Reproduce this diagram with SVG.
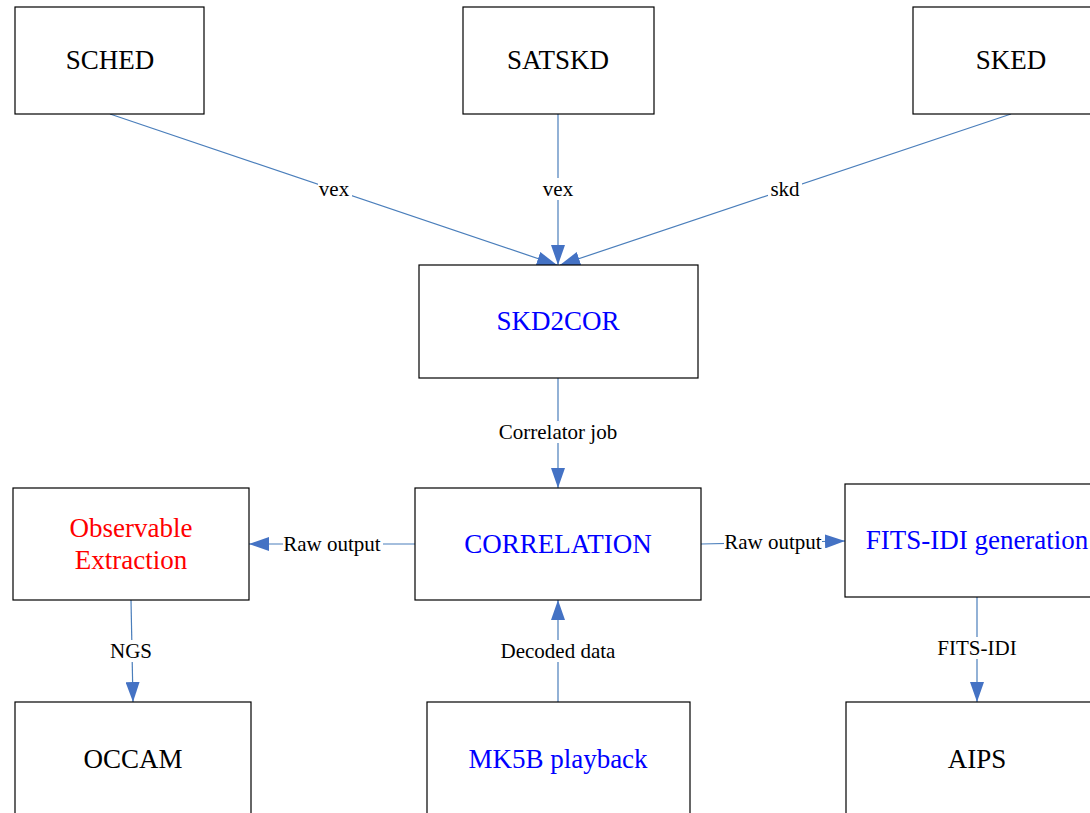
<svg xmlns="http://www.w3.org/2000/svg" width="1090" height="813" viewBox="0 0 1090 813">
<defs>
<style>
.box{fill:#fff;stroke:#000;stroke-width:1.2}
.t{font-family:"Liberation Serif","Times New Roman",serif;font-size:27px;text-anchor:middle;dominant-baseline:central}
.b{fill:#0000ff}
.r{fill:#ff0000}
.k{fill:#000}
.e{stroke:#4a7ebb;stroke-width:1.2;fill:none;marker-end:url(#ah)}
.lbl{font-family:"Liberation Serif","Times New Roman",serif;font-size:21px;text-anchor:middle;dominant-baseline:central;fill:#000}
.lb{fill:#fff}
</style>
<marker id="ah" viewBox="0 0 20 14" refX="20" refY="7" markerWidth="20" markerHeight="14" markerUnits="userSpaceOnUse" orient="auto">
<path d="M0,0 L20,7 L0,14 Z" fill="#4472c4"/>
</marker>
</defs>
<rect width="1090" height="813" fill="#fff"/>
<g id="connectors">
<line class="e" x1="110" y1="114" x2="557" y2="265"/>
<line class="e" x1="558" y1="114" x2="558" y2="265"/>
<line class="e" x1="1011" y1="114" x2="560" y2="265"/>
<line class="e" x1="558" y1="378" x2="558" y2="488"/>
<line class="e" x1="415" y1="544" x2="249" y2="544"/>
<line class="e" x1="701" y1="544" x2="845" y2="541"/>
<line class="e" x1="131" y1="600" x2="133" y2="702"/>
<line class="e" x1="558" y1="702" x2="558" y2="600"/>
<line class="e" x1="977" y1="597" x2="977" y2="702"/>
<rect class="lb" x="318" y="178" width="34" height="22"/>
<text class="lbl" x="334" y="189">vex</text>
<rect class="lb" x="541" y="178" width="34" height="22"/>
<text class="lbl" x="558" y="189">vex</text>
<rect class="lb" x="768" y="178" width="34" height="22"/>
<text class="lbl" x="785" y="189">skd</text>
<rect class="lb" x="498" y="421" width="122" height="22"/>
<text class="lbl" x="558" y="432">Correlator job</text>
<rect class="lb" x="283" y="533" width="100" height="22"/>
<text class="lbl" x="332" y="544">Raw output</text>
<rect class="lb" x="724" y="531" width="98" height="22"/>
<text class="lbl" x="773" y="542">Raw output</text>
<rect class="lb" x="109" y="640" width="44" height="22"/>
<text class="lbl" x="131" y="651">NGS</text>
<rect class="lb" x="499" y="640" width="120" height="22"/>
<text class="lbl" x="558" y="651">Decoded data</text>
<rect class="lb" x="937" y="637" width="80" height="22"/>
<text class="lbl" x="977" y="648">FITS-IDI</text>
</g>
<g id="sched"><rect class="box" x="15" y="7" width="189" height="107"/><text class="t k" x="110" y="60">SCHED</text></g>
<g id="satskd"><rect class="box" x="463" y="7" width="191" height="107"/><text class="t k" x="558" y="60">SATSKD</text></g>
<g id="sked"><rect class="box" x="913" y="7" width="200" height="107"/><text class="t k" x="1011" y="60">SKED</text></g>
<g id="skd2cor"><rect class="box" x="419" y="265" width="279" height="113"/><text class="t b" x="558" y="321">SKD2COR</text></g>
<g id="obs"><rect class="box" x="13" y="488" width="236" height="112"/><text class="t r" x="131" y="528">Observable</text><text class="t r" x="131" y="560">Extraction</text></g>
<g id="correlation"><rect class="box" x="415" y="488" width="286" height="112"/><text class="t b" x="558" y="544">CORRELATION</text></g>
<g id="fits"><rect class="box" x="845" y="484" width="260" height="113"/><text class="t b" x="977" y="540">FITS-IDI generation</text></g>
<g id="occam"><rect class="box" x="15" y="702" width="236" height="130"/><text class="t k" x="133" y="759">OCCAM</text></g>
<g id="mk5b"><rect class="box" x="427" y="702" width="263" height="130"/><text class="t b" x="558" y="759">MK5B playback</text></g>
<g id="aips"><rect class="box" x="846" y="702" width="260" height="130"/><text class="t k" x="977" y="759">AIPS</text></g>
</svg>
